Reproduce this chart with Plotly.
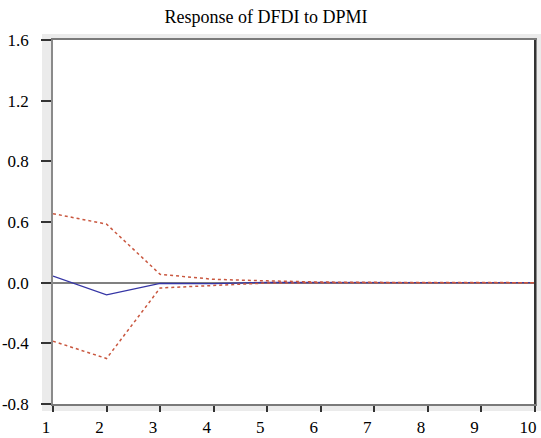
import plotly.graph_objects as go

periods = [1, 2, 3, 4, 5, 6, 7, 8, 9, 10]
response = [0.044, -0.081, -0.005, -0.006, 0.002, 0.0, 0.0, 0.0, 0.0, 0.0]
upper = [0.455, 0.386, 0.055, 0.022, 0.012, 0.004, 0.002, 0.001, 0.0, 0.0]
lower = [-0.386, -0.50, -0.035, -0.02, -0.002, -0.001, 0.0, 0.0, 0.0, 0.0]
y_tickvals = [-0.8, -0.4, 0.0, 0.4, 0.8, 1.2, 1.6]
y_ticktext = ["-0.8", "-0.4", "0.0", "0.6", "0.8", "1.2", "1.6"]
x_tickvals = periods

W, H = 541, 438
L, R, T, B = 53, 6, 40, 34
pw, ph = W - L - R, H - T - B
band = "#ebebeb"

fig = go.Figure()
fig.add_trace(go.Scatter(x=periods, y=response, mode="lines",
                         line=dict(color="#3535a5", width=1.3)))
fig.add_trace(go.Scatter(x=periods, y=upper, mode="lines",
                         line=dict(color="#c9573f", width=1.5, dash="dot")))
fig.add_trace(go.Scatter(x=periods, y=lower, mode="lines",
                         line=dict(color="#c9573f", width=1.5, dash="dot")))

shapes = [
    dict(type="rect", xref="paper", yref="paper", layer="below",
         x0=-11 / pw, x1=0, y0=-7 / ph, y1=1 + 6 / ph, fillcolor=band, line=dict(width=0)),
    dict(type="rect", xref="paper", yref="paper", layer="below",
         x0=0, x1=1 + 6 / pw, y0=1, y1=1 + 6 / ph, fillcolor=band, line=dict(width=0)),
    dict(type="rect", xref="paper", yref="paper", layer="below",
         x0=0, x1=1 + 6 / pw, y0=-7 / ph, y1=0, fillcolor=band, line=dict(width=0)),
    dict(type="rect", xref="paper", yref="paper", layer="below",
         x0=1, x1=1 + 6 / pw, y0=-7 / ph, y1=1 + 6 / ph, fillcolor=band, line=dict(width=0)),
    dict(type="line", xref="paper", yref="paper", x0=1, x1=1, y0=0, y1=1,
         line=dict(color="#333", width=2)),
]

fig.update_layout(
    width=W, height=H,
    margin=dict(l=L, r=R, t=T, b=B, autoexpand=False),
    paper_bgcolor="white", plot_bgcolor="white",
    showlegend=False,
    font=dict(family="Liberation Serif, Times New Roman, serif", size=17, color="black"),
    title=dict(text="Response of DFDI to DPMI", x=266 / W, xanchor="center", y=1 - 17 / H,
               yanchor="middle", font=dict(size=18)),
    xaxis=dict(range=[1, 10], tickvals=x_tickvals, showgrid=False, zeroline=False,
               showline=True, linecolor="#7a7a7a", linewidth=1.5, mirror=True,
               ticks="outside", ticklen=6, tickcolor="#333", tickwidth=2,
               ticklabelshift=-7, ticklabelstandoff=1, automargin=False),
    yaxis=dict(range=[-0.8, 1.6], tickvals=y_tickvals, ticktext=y_ticktext,
               showgrid=False, zeroline=True, zerolinecolor="#808080", zerolinewidth=1.5,
               showline=True, linecolor="#8a8a8a", linewidth=1.5, mirror=True,
               ticks="outside", ticklen=10, tickcolor="#333", tickwidth=2,
               ticklabelstandoff=9, automargin=False),
    shapes=shapes,
)

fig.write_html("out.html",
               config={"displayModeBar": False},
               post_script="document.body.style.margin='0';document.body.style.padding='0';")
